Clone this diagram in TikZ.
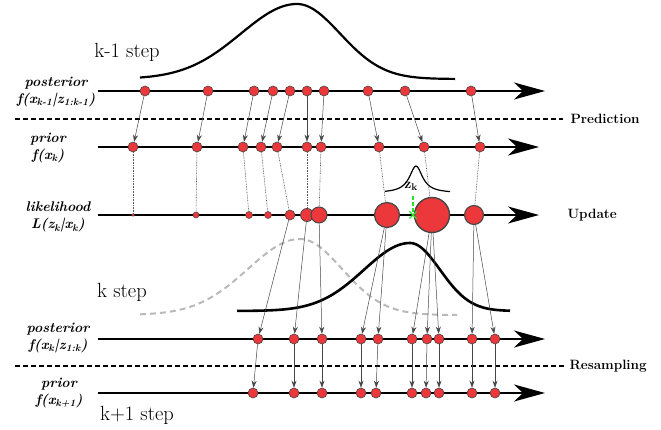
\documentclass[tikz,border=0pt]{standalone}
\usetikzlibrary{arrows.meta, shapes.misc}

\definecolor{ptred}{RGB}{236,56,58}
\definecolor{ptline}{RGB}{70,70,70}
\definecolor{zgreen}{RGB}{40,225,40}

\tikzset{
	pfpicture/.style = {
		x = 1pt,
		y = -1pt,
		axis/.style = {
			draw,
			line width = 1.6pt,
			-{Stealth[length=31pt, width=17pt, inset=9pt]},
		},
		move/.style = {
			draw = ptline,
			line width = 0.5pt,
			-{Stealth[length=7pt, width=5pt]},
		},
		link/.style = {
			draw = gray!70!black,
			line width = 0.6pt,
			dash pattern = on 0.8pt off 0.8pt,
		},
		sepline/.style = {
			draw,
			line width = 2pt,
			dash pattern = on 5pt off 3pt,
		},
		curve/.style = {
			draw,
			line width = 2.2pt,
		}
	},
	particle/.style = {
		circle,
		draw = ptline,
		fill = ptred,
		line width = 0.6pt,
		inner sep = 0pt,
		minimum size = 10pt
	},
	rowlabel/.style = {
		font = \fontsize{14}{17.5}\selectfont\bfseries\itshape,
		align = center
	},
	steplabel/.style = {
		font = \fontsize{20.5}{24}\selectfont
	},
	phaselabel/.style = {
		font = \fontsize{13.5}{16}\selectfont\bfseries,
		anchor = west
	}
}

\begin{document}
\begin{tikzpicture}[pfpicture]
	\useasboundingbox (0,0) rectangle (661,430);

	% densities
	\path[curve] plot[domain=140:297, samples=60] (\x, {79-75*exp(-((\x-297)/56)^2/2)})
		-- plot[domain=297:455, samples=60] (\x, {79-75*exp(-((\x-297)/43)^2/2)});
	\path[curve, draw = gray!55, line width = 2pt, dash pattern = on 6pt off 4pt]
		plot[domain=140:300, samples=60] (\x, {315-76*exp(-((\x-300)/52)^2/2)})
		-- plot[domain=300:457, samples=60] (\x, {315-76*exp(-((\x-300)/42)^2/2)});
	\path[curve, line width = 2.6pt] plot[domain=237:410, samples=60] (\x, {311-68*exp(-((\x-410)/46)^2/2)})
		-- plot[domain=410:510, samples=50] (\x, {311-68*exp(-((\x-410)/30)^2/2)});
	\path[curve, line width = 1.2pt] plot[domain=385:450, samples=60] (\x, {193-27/(1+((\x-416)/8)^2)});

	% step and row labels
	\node[steplabel] (kprev) at (127,52) {k-1 step};
	\node[steplabel] (kcur) at (122,292) {k step};
	\node[steplabel] (knext) at (137,415) {k+1 step};

	\node[rowlabel] (lpost1) at (56,92) {posterior\\f(x\textsubscript{k-1}|z\textsubscript{1:k-1})};
	\node[rowlabel] (lprior1) at (48,148) {prior\\f(x\textsubscript{k})};
	\node[rowlabel] (llike) at (58,217) {likelihood\\L(z\textsubscript{k}|x\textsubscript{k})};
	\node[rowlabel] (lpost2) at (58,338) {posterior\\f(x\textsubscript{k}|z\textsubscript{1:k})};
	\node[rowlabel] (lprior2) at (59,393) {prior\\f(x\textsubscript{k+1})};

	% phases
	\coordinate (predL) at (15,119);
	\coordinate (predR) at (563,119);
	\coordinate (resL) at (15,366);
	\coordinate (resR) at (565,366);
	\path[sepline] (predL) -- (predR);
	\path[sepline] (resL) -- (resR);
	\node[phaselabel] (pred) at (567,119) {Prediction};
	\node[phaselabel] (upd) at (564,215) {Update};
	\node[phaselabel] (res) at (566,366) {Resampling};

	% axes
	\foreach \r/\y/\e in {A/91/545, B/147/539, C/215/539, D/339/545, E/393/545} {
		\coordinate (\r s) at (98,\y);
		\coordinate (\r e) at (\e,\y);
		\path[axis] (\r s) -- (\r e);
	}

	% particles
	\foreach \i/\x in {1/145, 2/208, 3/254, 4/273, 5/290, 6/307, 7/324, 8/368, 9/405, 10/471}
		\node[particle] (A\i) at (\x,91) {};
	\foreach \i/\x in {1/133, 2/197, 3/243, 4/261, 5/277, 6/307, 7/321, 8/379, 9/424, 10/480}
		\node[particle] (B\i) at (\x,147) {};
	\foreach \i/\x/\r/\w in {1/133/1.5/0.3, 2/196/3/0.5, 3/249/3.5/0.5, 4/268/3.5/0.5, 5/290/5/0.6, 6/307/6.5/0.8, 7/319/8/1, 8/387/12.5/1.2, 9/432/17.5/1.4, 10/474/9.5/1.1}
		\node[particle, minimum size = \r*2pt, line width = \w pt] (C\i) at (\x,215) {};
	\foreach \i/\x in {1/258, 2/294, 3/322, 4/361, 5/378, 6/412, 7/427, 8/439, 9/472, 10/495}
		\node[particle] (D\i) at (\x,339) {};
	\foreach \i/\x in {1/253, 2/294, 3/322, 4/361, 5/376, 6/412, 7/426, 8/439, 9/472, 10/495}
		\node[particle] (E\i) at (\x,393) {};

	% measurement
	\coordinate (ztop) at (413,196);
	\node[cross out, draw = zgreen, line width = 1.2pt, minimum size = 6pt, inner sep = 0pt] (zobs) at (413,215) {};
	\path[draw = zgreen, line width = 1.8pt, dash pattern = on 4pt off 2pt] (ztop) -- (zobs.center);
	\node[font = \fontsize{14}{16}\selectfont\bfseries] (zk) at (411,186) {z\textsubscript{k}};

	\begin{scope}[every path/.style = move]
		\foreach \i in {1,...,10}
			\path (A\i) to (B\i);

		\path (C5) to (D1);
		\path (C6) to (D2);
		\path (C7) to (D3);
		\path (C8) to (D4);
		\path (C8) to (D5);
		\path (C9) to (D6);
		\path (C9) to (D7);
		\path (C9) to (D8);
		\path (C10) to (D9);
		\path (C10) to (D10);

		\foreach \i in {1,...,10}
			\path (D\i) to (E\i);
	\end{scope}

	\begin{scope}[every path/.style = link]
		\foreach \i in {1,...,10}
			\path (B\i) to (C\i);
	\end{scope}
\end{tikzpicture}
\end{document}
